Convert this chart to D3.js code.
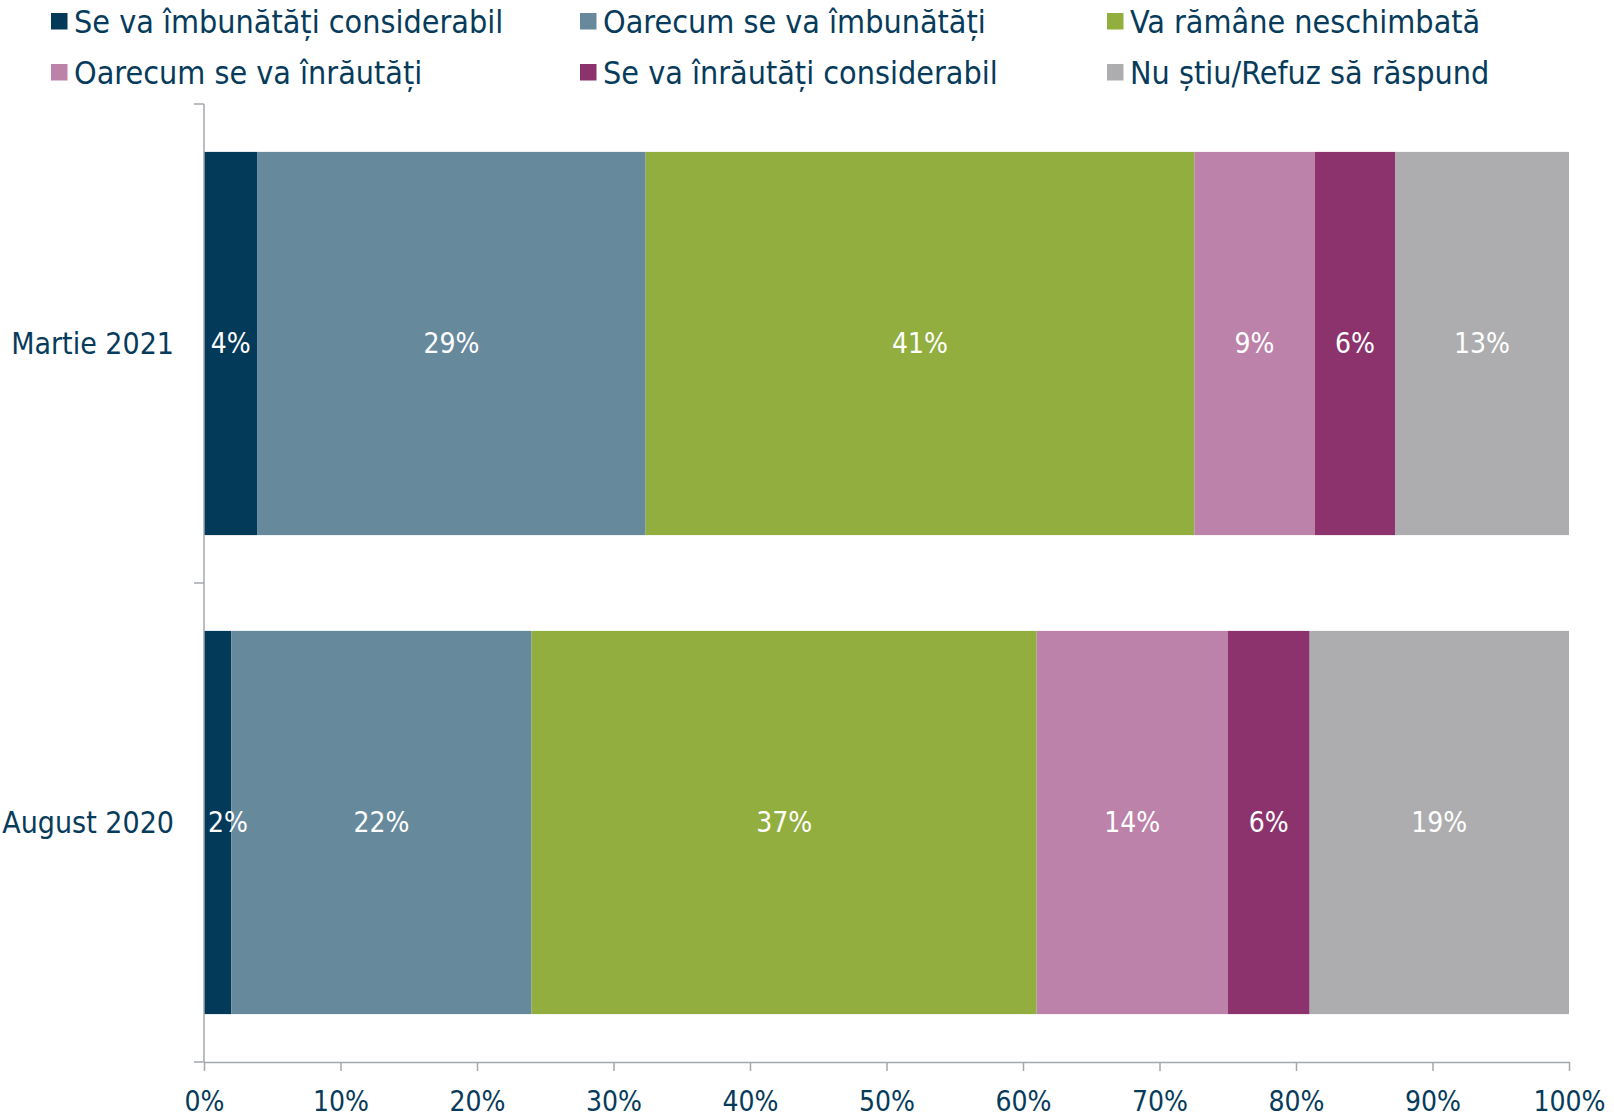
<!DOCTYPE html>
<html>
<head>
<meta charset="utf-8">
<script src="https://cdn.jsdelivr.net/npm/d3@7"></script>
<style>
  body { margin: 0; background: #fff; }
  svg { display: block; }
  .txt { font-family: "DejaVu Sans Condensed", "DejaVu Sans", sans-serif; fill: #073b5b; }
</style>
</head>
<body>
<div id="chart"></div>
<script>
// categories, top to bottom
const categories = ["Martie 2021", "August 2020"];
const seriesNames = [
  "Se va îmbunătăți considerabil",
  "Oarecum se va îmbunătăți",
  "Va rămâne neschimbată",
  "Oarecum se va înrăutăți",
  "Se va înrăutăți considerabil",
  "Nu știu/Refuz să răspund"
];
const martie2021 = [4, 29, 41, 9, 6, 13];
const august2020 = [2, 22, 37, 14, 6, 19];
const xTicks = [0, 0.1, 0.2, 0.3, 0.4, 0.5, 0.6, 0.7, 0.8, 0.9, 1];
const colors = ["#033a5a", "#67899c", "#91ae3e", "#bc82a9", "#8c336e", "#adadaf"];

const W = 1614, H = 1118;
const margin = { left: 204, right: 45, top: 104, bottom: 56 };
const width = W - margin.left - margin.right;
const height = H - margin.top - margin.bottom;

const rows = [martie2021, august2020].map((vals, i) => {
  const r = { cat: categories[i] };
  seriesNames.forEach((s, j) => (r[s] = vals[j]));
  return r;
});

// 100% stacked: values normalised per row
const stack = d3.stack().keys(seriesNames).offset(d3.stackOffsetExpand);
const layers = stack(rows);

const svg = d3.select("#chart").append("svg").attr("width", W).attr("height", H);
const g = svg.append("g").attr("transform", `translate(${margin.left},${margin.top})`);

const x = d3.scaleLinear().domain([0, 1]).range([0, width]);
const y = d3.scaleBand().domain(categories).range([0, height]).paddingInner(0.2).paddingOuter(0.1);

// bars
const layer = g.selectAll("g.layer").data(layers).enter().append("g")
  .attr("class", "layer").attr("fill", (d, i) => colors[i]);

layer.selectAll("rect").data(d => d).enter().append("rect")
  .attr("x", d => x(d[0]))
  .attr("y", d => y(d.data.cat))
  .attr("width", d => x(d[1]) - x(d[0]))
  .attr("height", y.bandwidth());

// value labels (drawn after all bars so nothing covers them)
const labels = layers.flatMap(l => l.map(p => ({ p, key: l.key })));
g.append("g").selectAll("text").data(labels).enter().append("text")
  .attr("class", "txt")
  .attr("x", d => Math.max((x(d.p[0]) + x(d.p[1])) / 2, 24))
  .attr("y", d => y(d.p.data.cat) + y.bandwidth() / 2)
  .attr("text-anchor", "middle")
  .attr("dominant-baseline", "central")
  .style("fill", "#fff")
  .style("font-size", "28px")
  .text(d => d.p.data[d.key] + "%");

// axes
const axisColor = "#a3a7ae";
const xAxis = g.append("g").attr("transform", `translate(0,${height})`)
  .call(d3.axisBottom(x).tickValues(xTicks).tickFormat(d3.format(".0%")).tickSize(9).tickSizeOuter(0));
xAxis.select(".domain").attr("stroke", axisColor).attr("stroke-width", 1.5);
xAxis.selectAll(".tick line").attr("stroke", axisColor).attr("stroke-width", 1.5);
xAxis.selectAll(".tick text").attr("class", "txt")
  .style("font-size", "28px").attr("y", 39).attr("dy", "0.35em");

const yAxisG = g.append("g");
yAxisG.append("line").attr("x1", 0).attr("x2", 0).attr("y1", 0).attr("y2", height)
  .attr("stroke", axisColor).attr("stroke-width", 1.5);
// ticks at category boundaries
const bounds = [0, height / 2, height];
yAxisG.selectAll("line.tk").data(bounds).enter().append("line").attr("class", "tk")
  .attr("x1", -10).attr("x2", 0).attr("y1", d => d).attr("y2", d => d)
  .attr("stroke", axisColor).attr("stroke-width", 1.5);
yAxisG.selectAll("text").data(categories).enter().append("text")
  .attr("class", "txt")
  .attr("x", -30)
  .attr("y", d => y(d) + y.bandwidth() / 2)
  .attr("text-anchor", "end")
  .attr("dominant-baseline", "central")
  .style("font-size", "30px")
  .text(d => d);

// legend
const legCols = [51, 580, 1107];
const legRows = [21, 72];
const leg = svg.append("g").selectAll("g").data(seriesNames).enter().append("g")
  .attr("transform", (d, i) => `translate(${legCols[i % 3]},${legRows[Math.floor(i / 3)]})`);
leg.append("rect").attr("x", 0).attr("y", -8).attr("width", 16.5).attr("height", 16.5)
  .attr("fill", (d, i) => colors[i]);
leg.append("text").attr("class", "txt").attr("x", 23).attr("y", 1)
  .attr("dominant-baseline", "central").style("font-size", "32px").text(d => d);
</script>
</body>
</html>
